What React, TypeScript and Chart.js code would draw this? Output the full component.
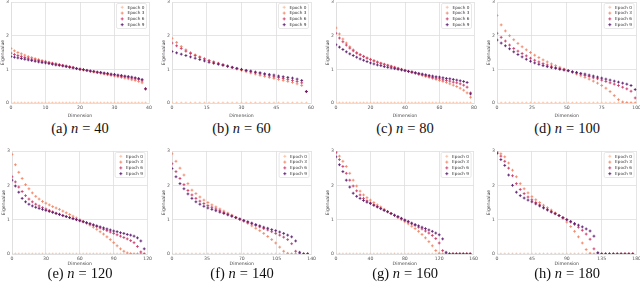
import React, { useEffect, useRef } from "react";
import { Chart, registerables } from "chart.js";
Chart.register(...registerables);

const legendLabels = ["Epoch 0", "Epoch 3", "Epoch 6", "Epoch 9"];
const seriesColors = ["#f9c1a4", "#f2886a", "#cd3d6c", "#5e1f70"];
const yTickValues = [0, 1, 2, 3];

// (a) n = 40, every dimension
const nA = 40;
const stepA = 1;
const ticksA = [0, 10, 20, 30, 40];
const a3 = [1.62,1.55,1.5,1.46,1.42,1.38,1.35,1.32,1.29,1.26,1.24,1.21,1.18,1.16,1.13,1.11,1.09,1.07,1.05,1.02,1.0,0.98,0.96,0.94,0.92,0.9,0.88,0.86,0.84,0.82,0.8,0.78,0.76,0.74,0.72,0.69,0.67,0.64,0.6,0.42];
const a6 = [1.48,1.44,1.41,1.38,1.35,1.33,1.3,1.28,1.26,1.24,1.22,1.2,1.18,1.16,1.14,1.12,1.1,1.08,1.06,1.03,1.01,0.99,0.97,0.95,0.93,0.91,0.9,0.88,0.86,0.84,0.83,0.81,0.79,0.78,0.76,0.74,0.72,0.7,0.66,0.42];
const a9 = [1.38,1.36,1.34,1.32,1.3,1.28,1.26,1.24,1.22,1.2,1.19,1.17,1.15,1.13,1.12,1.1,1.08,1.06,1.04,1.02,1.0,0.99,0.97,0.95,0.94,0.92,0.91,0.89,0.88,0.86,0.85,0.83,0.82,0.8,0.79,0.77,0.75,0.73,0.7,0.42];

// (b) n = 60, every 2nd dimension
const nB = 60;
const stepB = 2;
const ticksB = [0, 15, 30, 45, 60];
const b3 = [1.92,1.8,1.68,1.58,1.5,1.43,1.37,1.31,1.26,1.21,1.17,1.13,1.09,1.05,1.01,0.97,0.93,0.89,0.86,0.82,0.79,0.76,0.73,0.7,0.67,0.64,0.61,0.57,0.52,0.34];
const b6 = [1.78,1.7,1.62,1.54,1.47,1.41,1.36,1.31,1.26,1.22,1.18,1.14,1.1,1.06,1.02,0.99,0.96,0.93,0.9,0.87,0.84,0.81,0.78,0.76,0.73,0.7,0.67,0.64,0.6,0.34];
const b9 = [1.53,1.49,1.45,1.41,1.37,1.33,1.29,1.25,1.21,1.18,1.15,1.12,1.09,1.06,1.03,1.0,0.97,0.95,0.92,0.9,0.87,0.85,0.83,0.8,0.78,0.76,0.74,0.71,0.67,0.34];

// (c) n = 80, every 2nd dimension
const nC = 80;
const stepC = 2;
const ticksC = [0, 20, 40, 60, 80];
const c3 = [2.23,2.05,1.9,1.78,1.67,1.58,1.5,1.44,1.39,1.34,1.3,1.26,1.22,1.18,1.15,1.12,1.09,1.06,1.03,1.0,0.97,0.94,0.91,0.88,0.85,0.82,0.79,0.76,0.73,0.7,0.67,0.64,0.61,0.57,0.53,0.49,0.44,0.38,0.3,0.17];
const c6 = [2.07,1.93,1.82,1.72,1.63,1.55,1.48,1.43,1.38,1.33,1.29,1.25,1.21,1.18,1.15,1.12,1.09,1.06,1.03,1.0,0.97,0.94,0.92,0.89,0.86,0.84,0.81,0.79,0.76,0.74,0.72,0.69,0.67,0.65,0.62,0.6,0.57,0.53,0.47,0.3];
const c9 = [1.73,1.66,1.59,1.52,1.46,1.41,1.36,1.31,1.27,1.23,1.19,1.16,1.13,1.11,1.08,1.06,1.04,1.02,1.0,0.98,0.96,0.94,0.92,0.9,0.88,0.86,0.84,0.82,0.8,0.78,0.77,0.75,0.73,0.72,0.7,0.68,0.66,0.64,0.61,0.27];

// (d) n = 100, every 3rd dimension
const nD = 100;
const stepD = 3;
const ticksD = [0, 25, 50, 75, 100];
const d3 = [2.6,2.32,2.14,2.0,1.88,1.77,1.67,1.58,1.5,1.42,1.35,1.28,1.22,1.16,1.11,1.06,1.01,0.96,0.91,0.86,0.81,0.76,0.71,0.65,0.59,0.52,0.44,0.34,0.22,0.1,0.03,0.01,0,0];
const d6 = [2.07,1.95,1.84,1.72,1.62,1.54,1.47,1.4,1.33,1.27,1.22,1.17,1.13,1.09,1.05,1.02,0.99,0.96,0.92,0.89,0.86,0.82,0.79,0.75,0.72,0.68,0.64,0.6,0.56,0.52,0.47,0.42,0.35,0.15];
const d9 = [1.87,1.78,1.7,1.61,1.52,1.44,1.37,1.3,1.24,1.19,1.15,1.11,1.08,1.05,1.03,1.0,0.98,0.96,0.93,0.91,0.88,0.86,0.83,0.8,0.77,0.74,0.71,0.68,0.65,0.62,0.59,0.56,0.52,0.4];

// (e) n = 120, every 3rd dimension
const nE = 120;
const stepE = 3;
const ticksE = [0, 30, 60, 90, 120];
const e3 = [2.9,2.6,2.38,2.2,2.02,1.9,1.78,1.68,1.6,1.53,1.48,1.43,1.38,1.34,1.3,1.25,1.2,1.15,1.1,1.05,1.0,0.95,0.9,0.84,0.78,0.72,0.65,0.58,0.5,0.42,0.33,0.24,0.15,0.08,0.03,0.01,0,0,0,0];
const e6 = [2.25,2.1,1.95,1.82,1.7,1.6,1.52,1.45,1.4,1.35,1.31,1.27,1.23,1.19,1.16,1.12,1.09,1.06,1.03,1.0,0.97,0.94,0.91,0.88,0.84,0.8,0.76,0.72,0.68,0.64,0.6,0.56,0.52,0.48,0.44,0.39,0.33,0.22,0.06,0];
const e9 = [2.15,1.98,1.8,1.62,1.52,1.45,1.4,1.36,1.33,1.3,1.27,1.24,1.21,1.18,1.15,1.12,1.09,1.06,1.03,1.0,0.97,0.94,0.91,0.88,0.85,0.82,0.79,0.76,0.73,0.7,0.67,0.65,0.62,0.6,0.57,0.55,0.52,0.47,0.38,0.15];

// (f) n = 140, every 4th dimension
const nF = 140;
const stepF = 4;
const ticksF = [0, 35, 70, 105, 140];
const f3 = [2.92,2.7,2.5,2.3,2.05,1.86,1.76,1.66,1.57,1.5,1.43,1.37,1.31,1.25,1.19,1.13,1.07,1.01,0.95,0.89,0.82,0.75,0.68,0.6,0.51,0.42,0.32,0.2,0.08,0.02,0,0,0,0,0];
const f6 = [2.63,2.4,2.2,2.02,1.85,1.72,1.62,1.54,1.47,1.41,1.36,1.31,1.26,1.21,1.16,1.11,1.06,1.01,0.97,0.92,0.88,0.83,0.79,0.74,0.7,0.65,0.6,0.55,0.49,0.42,0.3,0.08,0,0,0];
const f9 = [2.49,2.25,2.05,1.9,1.75,1.62,1.52,1.45,1.39,1.34,1.3,1.26,1.22,1.18,1.14,1.1,1.06,1.02,0.98,0.94,0.9,0.86,0.82,0.78,0.75,0.71,0.68,0.64,0.6,0.55,0.5,0.38,0.05,0,0];

// (g) n = 160, every 4th dimension
const nG = 160;
const stepG = 4;
const ticksG = [0, 40, 80, 120, 160];
const g3 = [2.98,2.85,2.7,2.55,2.35,2.15,1.98,1.83,1.72,1.64,1.57,1.5,1.43,1.37,1.3,1.24,1.18,1.12,1.06,1.0,0.94,0.88,0.81,0.74,0.66,0.57,0.47,0.36,0.24,0.1,0.02,0,0,0,0,0,0,0,0,0];
const g6 = [2.95,2.75,2.55,2.35,2.15,1.98,1.84,1.72,1.62,1.55,1.49,1.43,1.38,1.33,1.28,1.23,1.18,1.13,1.08,1.03,0.98,0.93,0.88,0.83,0.78,0.73,0.67,0.61,0.54,0.45,0.32,0.1,0,0,0,0,0,0,0,0];
const g9 = [2.83,2.6,2.4,2.15,1.95,1.77,1.68,1.62,1.56,1.51,1.47,1.42,1.37,1.32,1.27,1.23,1.18,1.13,1.09,1.04,0.99,0.95,0.9,0.86,0.82,0.78,0.74,0.7,0.66,0.61,0.56,0.44,0.05,0,0,0,0,0,0,0];

// (h) n = 180, every 5th dimension
const nH = 180;
const stepH = 5;
const ticksH = [0, 45, 90, 135, 180];
const h3 = [2.98,2.92,2.83,2.65,2.44,2.25,2.05,1.9,1.78,1.67,1.58,1.5,1.42,1.35,1.28,1.2,1.12,1.03,0.93,0.8,0.66,0.5,0.32,0.13,0.02,0,0,0,0,0,0,0,0,0,0,0];
const h6 = [2.95,2.85,2.7,2.5,2.28,2.05,1.88,1.76,1.66,1.58,1.5,1.43,1.36,1.3,1.24,1.18,1.12,1.06,1.0,0.93,0.86,0.78,0.69,0.58,0.43,0.15,0,0,0,0,0,0,0,0,0,0];
const h9 = [2.93,2.75,2.58,2.3,2.0,1.8,1.7,1.63,1.57,1.52,1.46,1.4,1.34,1.28,1.22,1.17,1.12,1.06,1.0,0.95,0.89,0.84,0.79,0.73,0.67,0.52,0.04,0,0,0,0,0,0,0,0,0];

// Epoch 0 row, flat at zero
const zeroRow = [0,0,0,0,0,0,0,0,0,0,0,0,0,0,0,0,0,0,0,0,0,0,0,0,0,0,0,0,0,0,0,0,0,0,0,0,0,0,0,0];

type Area = { l: number; r: number; t: number; b: number };
type PanelCfg = { letter: string; n: number; step: number; xt: number[]; series: number[][]; area: Area; xh: number; capTop: number };

const panels: PanelCfg[] = [
  { letter: "a", n: nA, step: stepA, xt: ticksA, series: [a3, a6, a9], area: { l: 11, r: 149, t: 2, b: 103 }, xh: 16, capTop: 121 },
  { letter: "b", n: nB, step: stepB, xt: ticksB, series: [b3, b6, b9], area: { l: 172, r: 311, t: 2, b: 103 }, xh: 16, capTop: 121 },
  { letter: "c", n: nC, step: stepC, xt: ticksC, series: [c3, c6, c9], area: { l: 336, r: 474, t: 2, b: 103 }, xh: 16, capTop: 121 },
  { letter: "d", n: nD, step: stepD, xt: ticksD, series: [d3, d6, d9], area: { l: 497, r: 637, t: 2, b: 103 }, xh: 16, capTop: 121 },
  { letter: "e", n: nE, step: stepE, xt: ticksE, series: [e3, e6, e9], area: { l: 12, r: 148, t: 151, b: 254 }, xh: 13, capTop: 266 },
  { letter: "f", n: nF, step: stepF, xt: ticksF, series: [f3, f6, f9], area: { l: 172, r: 312, t: 151, b: 254 }, xh: 13, capTop: 266 },
  { letter: "g", n: nG, step: stepG, xt: ticksG, series: [g3, g6, g9], area: { l: 336, r: 474, t: 151, b: 254 }, xh: 13, capTop: 266 },
  { letter: "h", n: nH, step: stepH, xt: ticksH, series: [h3, h6, h9], area: { l: 497, r: 637, t: 151, b: 254 }, xh: 13, capTop: 266 },
];

const Y_W = 11;
const PAD_T = 6;
const PAD_R = 6;
const TICK_FONT = { family: "'DejaVu Sans', sans-serif", size: 4.6 };

const insideLegend = {
  id: "insideLegend",
  afterDatasetsDraw(chart: any) {
    const ctx = chart.ctx as CanvasRenderingContext2D;
    const ca = chart.chartArea;
    const w = 30, h = 25;
    const x0 = ca.right - 2.5 - w;
    const y0 = ca.top + 1.5;
    ctx.save();
    ctx.fillStyle = "rgba(255,255,255,0.9)";
    ctx.strokeStyle = "#d8d8d8";
    ctx.lineWidth = 0.6;
    ctx.beginPath();
    if ((ctx as any).roundRect) (ctx as any).roundRect(x0, y0, w, h, 1.5);
    else ctx.rect(x0, y0, w, h);
    ctx.fill();
    ctx.stroke();
    ctx.font = "4.2px 'DejaVu Sans', sans-serif";
    ctx.textBaseline = "middle";
    const ds = chart.data.datasets;
    legendLabels.forEach((lab, i) => {
      const y = y0 + 3.8 + i * 5.8;
      const color = ds[i] ? ds[i].borderColor : seriesColors[i];
      ctx.strokeStyle = color;
      ctx.lineWidth = 0.9;
      ctx.beginPath();
      ctx.moveTo(x0 + 4.2, y);
      ctx.lineTo(x0 + 7.2, y);
      ctx.moveTo(x0 + 5.7, y - 1.5);
      ctx.lineTo(x0 + 5.7, y + 1.5);
      ctx.stroke();
      ctx.fillStyle = "#333";
      ctx.fillText(lab, x0 + 11, y + 0.2);
    });
    ctx.restore();
  },
};

function Panel({ cfg }: { cfg: PanelCfg }) {
  const ref = useRef<HTMLCanvasElement>(null);
  const { area } = cfg;
  const left = area.l - Y_W;
  const top = area.t - PAD_T;
  const w = area.r + PAD_R - left;
  const h = area.b + cfg.xh - top;

  useEffect(() => {
    if (!ref.current) return;
    const toPts = (vals: number[]) => vals.map((v, i) => ({ x: i * cfg.step, y: v }));
    const all = [zeroRow.slice(0, cfg.series[0].length), ...cfg.series];
    const datasets = all.map((vals, i) => ({
      label: legendLabels[i],
      data: toPts(vals),
      borderColor: seriesColors[i],
      backgroundColor: seriesColors[i],
      pointStyle: "cross" as const,
      pointRadius: 1.4,
      pointBorderWidth: 0.9,
      showLine: false,
      order: 3 - i,
    }));
    const grid = { color: "#dedede", lineWidth: 0.8, drawTicks: false };
    const border = { color: "#dedede", width: 0.8 };
    const chart = new Chart(ref.current, {
      type: "scatter",
      data: { datasets },
      options: {
        animation: false,
        responsive: false,
        maintainAspectRatio: false,
        events: [],
        layout: { padding: { left: 0, right: PAD_R, top: PAD_T, bottom: 0 } },
        plugins: { legend: { display: false }, tooltip: { enabled: false } },
        scales: {
          x: {
            type: "linear",
            min: 0,
            max: cfg.n,
            afterBuildTicks: (s: any) => { s.ticks = cfg.xt.map((v) => ({ value: v })); },
            afterFit: (s: any) => { s.height = cfg.xh; },
            grid,
            border,
            ticks: { font: TICK_FONT, color: "#555", padding: 2, maxRotation: 0, autoSkip: false },
            title: { display: true, text: "Dimension", font: TICK_FONT, color: "#444", padding: { top: 0, bottom: 0 } },
          },
          y: {
            type: "linear",
            min: 0,
            max: 3,
            afterBuildTicks: (s: any) => { s.ticks = yTickValues.map((v) => ({ value: v })); },
            afterFit: (s: any) => { s.width = Y_W; },
            grid,
            border,
            ticks: { font: TICK_FONT, color: "#555", padding: 2 },
            title: { display: true, text: "Eigenvalue", font: TICK_FONT, color: "#444", padding: { top: 0, bottom: 0 } },
          },
        },
      },
      plugins: [insideLegend],
    } as any);
    return () => chart.destroy();
  }, [cfg]);

  return (
    <>
      <canvas
        ref={ref}
        width={w}
        height={h}
        style={{ position: "absolute", left, top, width: w, height: h }}
      />
      <div
        style={{
          position: "absolute",
          left: (area.l + area.r) / 2,
          top: cfg.capTop,
          transform: "translateX(-50%)",
          whiteSpace: "nowrap",
          fontFamily: "Liberation Serif, DejaVu Serif, serif",
          fontSize: 14.5,
          lineHeight: "15px",
          color: "#111",
        }}
      >
        ({cfg.letter})&nbsp;<i>n</i>
        <span style={{ margin: "0 4px" }}>=</span>
        {cfg.n}
      </div>
    </>
  );
}

export default function App() {
  return (
    <div
      style={{
        position: "fixed",
        left: 0,
        top: 0,
        width: 640,
        height: 288,
        overflow: "hidden",
        background: "#fff",
      }}
    >
      {panels.map((p) => (
        <Panel key={p.letter} cfg={p} />
      ))}
    </div>
  );
}
